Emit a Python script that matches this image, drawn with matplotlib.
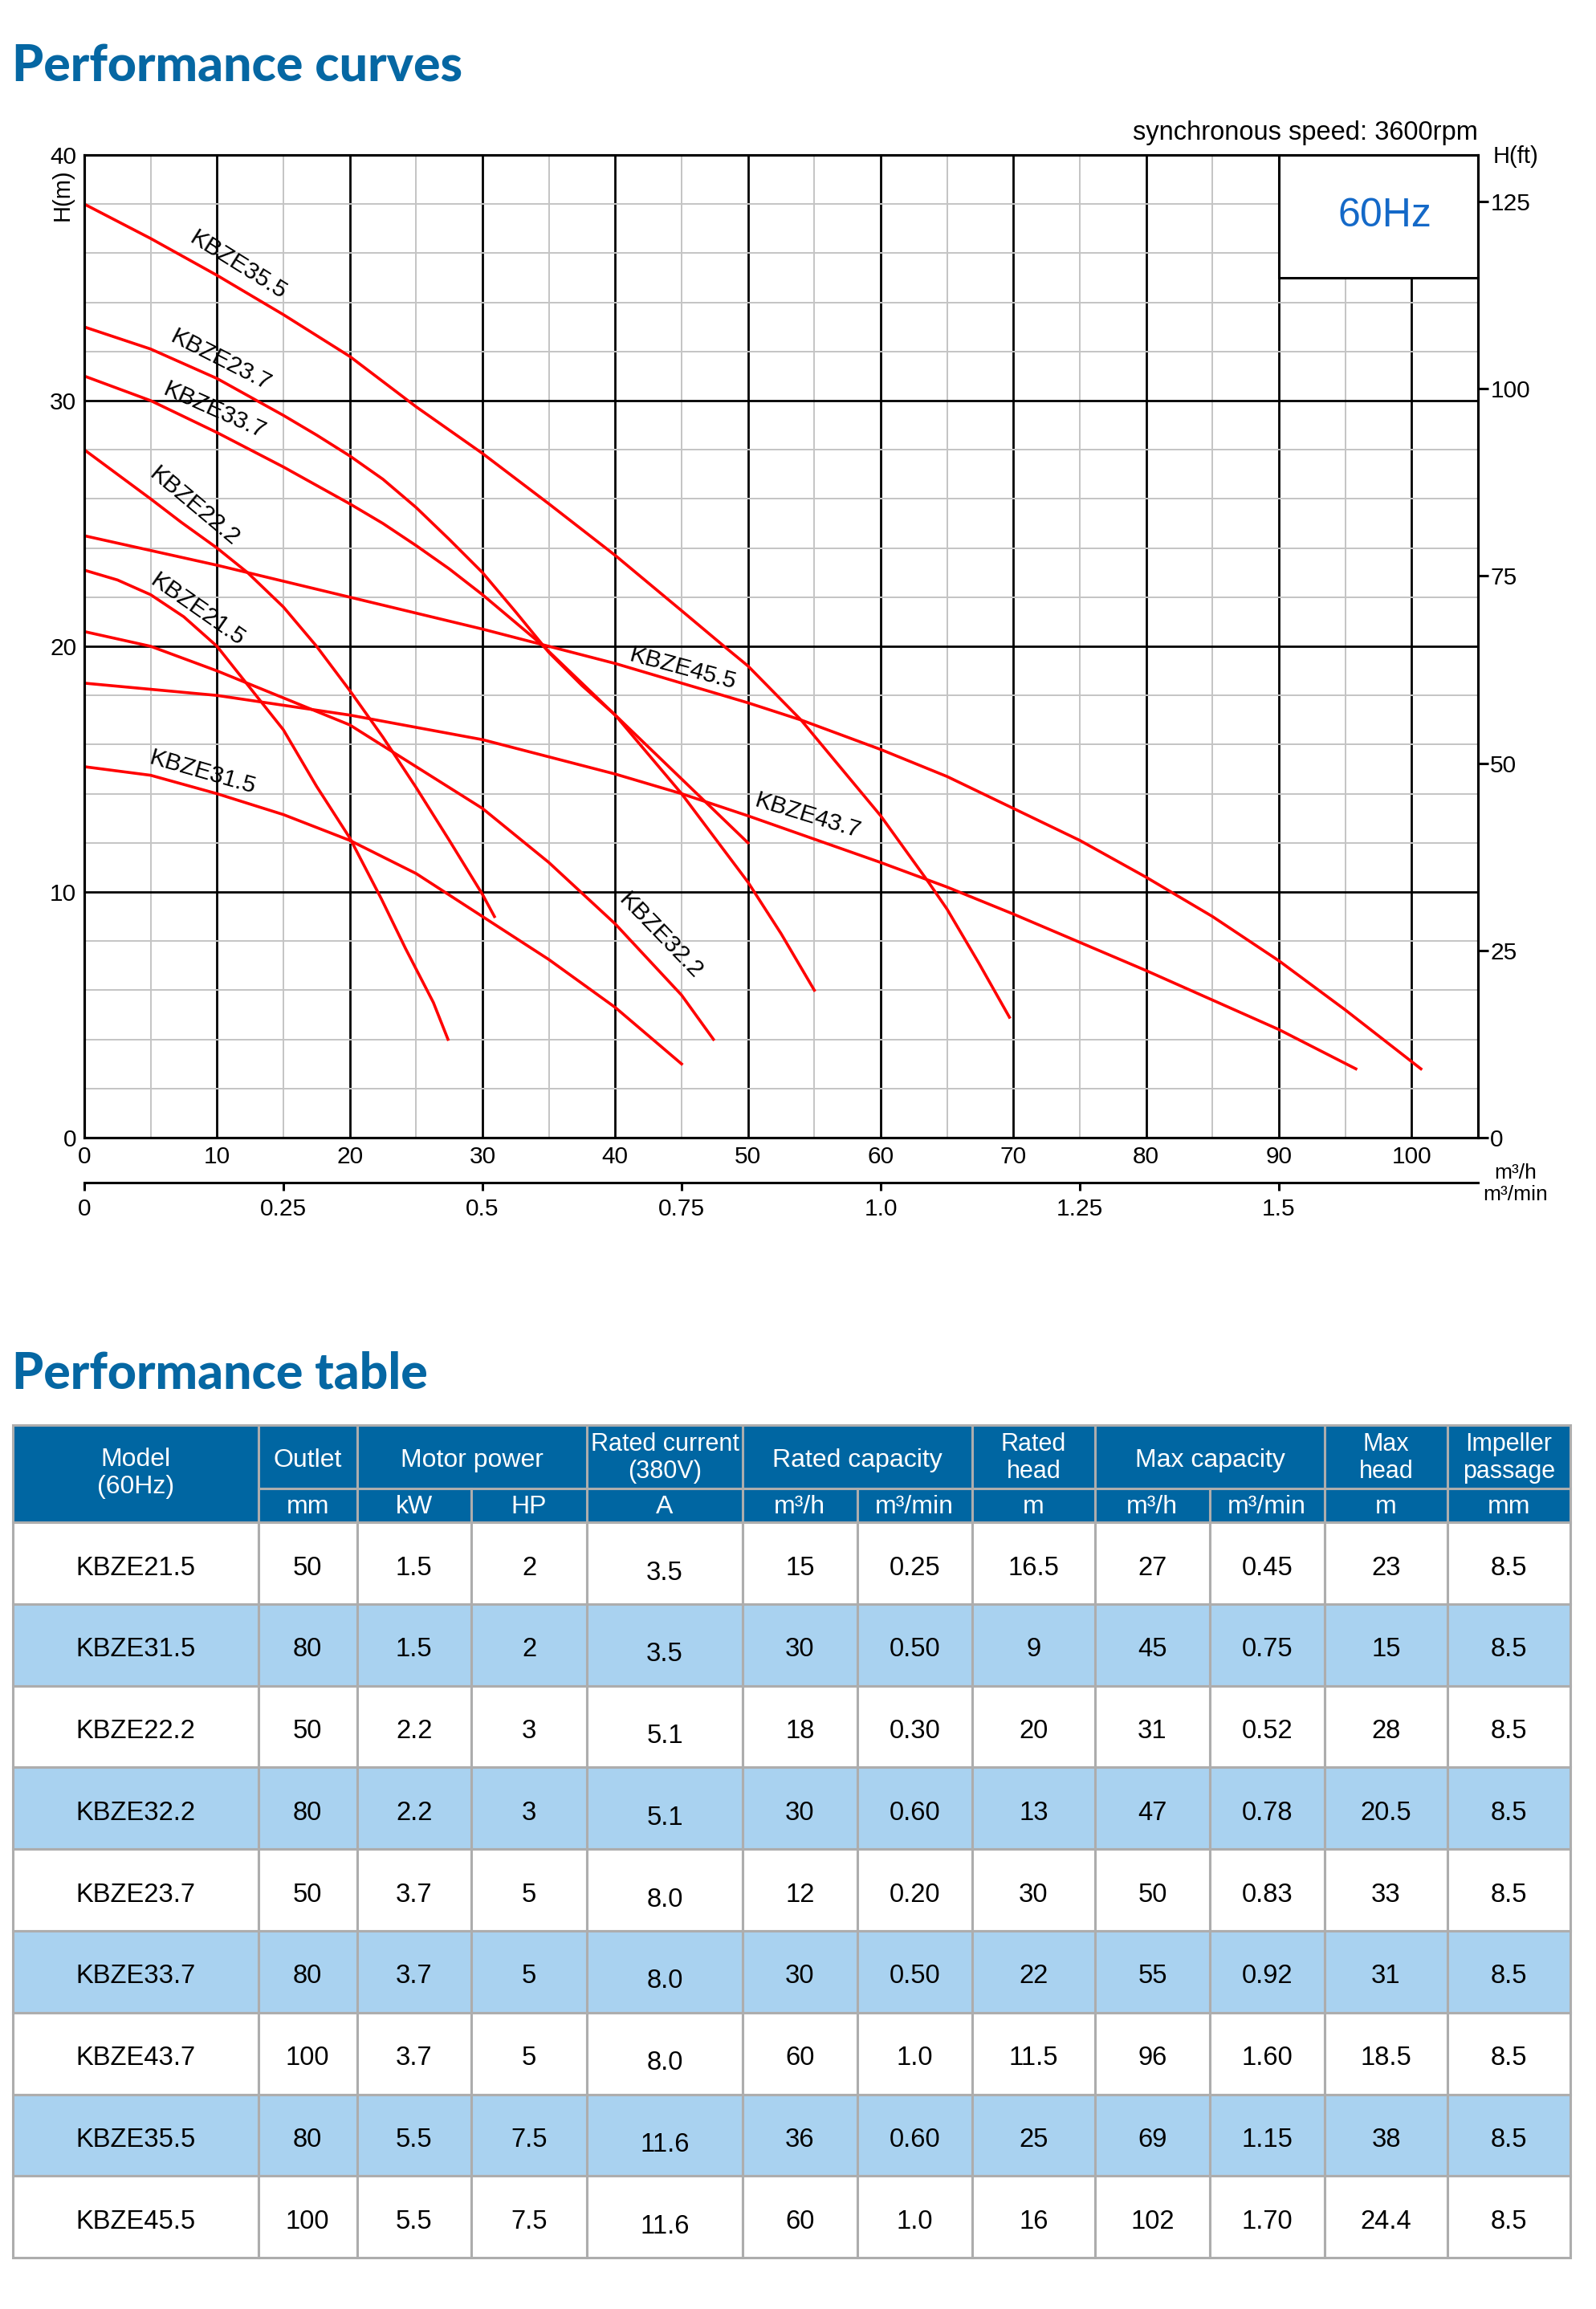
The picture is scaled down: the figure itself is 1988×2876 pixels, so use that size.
import matplotlib.pyplot as plt
from matplotlib.patches import Rectangle

plt.rcParams['font.family'] = ['Liberation Sans', 'DejaVu Sans']

# ---- curve data: flow Q (m3/h) and head H (m) ----
q_21_5 = [0, 2.5, 5, 7.5, 10, 12.5, 15, 17.5, 20, 22.4, 24.2, 26.3, 27.4]
h_21_5 = [23.1, 22.7, 22.1, 21.2, 20.0, 18.3, 16.6, 14.3, 12.2, 9.7, 7.7, 5.5, 4.0]

q_31_5 = [0, 5, 10, 15, 20, 25, 30, 35, 40, 45]
h_31_5 = [15.1, 14.75, 14.0, 13.15, 12.1, 10.75, 9.0, 7.25, 5.3, 3.0]

q_22_2 = [0, 5, 7.3, 10, 12.3, 15, 17.5, 20, 22.5, 25, 27.5, 30, 30.9]
h_22_2 = [28.0, 26.0, 25.05, 24.0, 23.0, 21.6, 20.0, 18.2, 16.3, 14.25, 12.1, 9.9, 9.0]

q_32_2 = [0, 5, 10, 15, 20, 25, 30, 35, 40, 45, 47.4]
h_32_2 = [20.6, 20.0, 19.0, 17.9, 16.8, 15.1, 13.4, 11.2, 8.7, 5.8, 4.0]

q_23_7 = [0, 5, 10, 15, 17.5, 20, 22.5, 25, 27.5, 30, 32.5, 35, 37.5, 40, 45, 50]
h_23_7 = [33.0, 32.1, 30.9, 29.4, 28.6, 27.75, 26.8, 25.65, 24.35, 23.0, 21.4,
          19.75, 18.4, 17.2, 14.6, 12.0]

q_33_7 = [0, 5, 10, 15, 20, 22.5, 25, 27.5, 30, 34.4, 40, 45, 50, 52.5, 55]
h_33_7 = [31.0, 30.0, 28.7, 27.3, 25.8, 25.0, 24.1, 23.15, 22.1, 20.1, 17.2,
          14.0, 10.4, 8.3, 6.0]

q_43_7 = [0, 10, 20, 30, 40, 45, 50, 60, 65, 70, 80, 90, 95.8]
h_43_7 = [18.5, 18.0, 17.2, 16.2, 14.8, 14.0, 13.1, 11.2, 10.2, 9.1, 6.8, 4.4, 2.8]

q_35_5 = [0, 5, 10, 15, 20, 25, 30, 35, 40, 45, 48.2, 50, 54, 60, 63.6, 65, 67.4, 69.7]
h_35_5 = [38.0, 36.6, 35.1, 33.5, 31.8, 29.75, 27.85, 25.8, 23.7, 21.45, 20.0, 19.2, 17.0, 13.1, 10.4, 9.3, 7.1, 4.9]

q_45_5 = [0, 10, 20, 30, 35, 40, 50, 54, 60, 65, 70, 75, 80, 85, 90, 95, 100.7]
h_45_5 = [24.5, 23.3, 22.0, 20.7, 20.0, 19.3, 17.7, 17.0, 15.8, 14.7, 13.4, 12.1, 10.6, 9.0, 7.2, 5.2, 2.8]

curves = [
    ("KBZE21.5", q_21_5, h_21_5),
    ("KBZE31.5", q_31_5, h_31_5),
    ("KBZE22.2", q_22_2, h_22_2),
    ("KBZE32.2", q_32_2, h_32_2),
    ("KBZE23.7", q_23_7, h_23_7),
    ("KBZE33.7", q_33_7, h_33_7),
    ("KBZE43.7", q_43_7, h_43_7),
    ("KBZE35.5", q_35_5, h_35_5),
    ("KBZE45.5", q_45_5, h_45_5),
]

# where each curve name sits (Q, H, rotation)
label_pos = {
    "KBZE35.5": (11.6, 35.5, -32),
    "KBZE23.7": (10.3, 31.65, -27),
    "KBZE33.7": (9.8, 29.6, -24),
    "KBZE22.2": (8.3, 25.7, -40),
    "KBZE21.5": (8.5, 21.5, -35),
    "KBZE31.5": (8.9, 14.86, -16),
    "KBZE45.5": (45.1, 19.08, -15),
    "KBZE43.7": (54.5, 13.08, -17),
    "KBZE32.2": (43.4, 8.22, -46),
}

ft_ticks = [0, 25, 50, 75, 100, 125]
min_ticks = [0, 0.25, 0.5, 0.75, 1.0, 1.25, 1.5]
min_labels = ["0", "0.25", "0.5", "0.75", "1.0", "1.25", "1.5"]

# ---- table data ----
models = ["KBZE21.5", "KBZE31.5", "KBZE22.2", "KBZE32.2", "KBZE23.7",
          "KBZE33.7", "KBZE43.7", "KBZE35.5", "KBZE45.5"]
outlet_mm = ["50", "80", "50", "80", "50", "80", "100", "80", "100"]
power_kw = ["1.5", "1.5", "2.2", "2.2", "3.7", "3.7", "3.7", "5.5", "5.5"]
power_hp = ["2", "2", "3", "3", "5", "5", "5", "7.5", "7.5"]
current_a = ["3.5", "3.5", "5.1", "5.1", "8.0", "8.0", "8.0", "11.6", "11.6"]
rated_q_h = ["15", "30", "18", "30", "12", "30", "60", "36", "60"]
rated_q_min = ["0.25", "0.50", "0.30", "0.60", "0.20", "0.50", "1.0", "0.60", "1.0"]
rated_head = ["16.5", "9", "20", "13", "30", "22", "11.5", "25", "16"]
max_q_h = ["27", "45", "31", "47", "50", "55", "96", "69", "102"]
max_q_min = ["0.45", "0.75", "0.52", "0.78", "0.83", "0.92", "1.60", "1.15", "1.70"]
max_head = ["23", "15", "28", "20.5", "33", "31", "18.5", "38", "24.4"]
passage_mm = ["8.5"] * 9

table_cols = [models, outlet_mm, power_kw, power_hp, current_a, rated_q_h,
              rated_q_min, rated_head, max_q_h, max_q_min, max_head, passage_mm]

# header: (first col, last col, lines)
group_header = [
    (1, 1, ["Outlet"]), (2, 3, ["Motor power"]), (4, 4, ["Rated current", "(380V)"]),
    (5, 6, ["Rated capacity"]), (7, 7, ["Rated", "head"]), (8, 9, ["Max capacity"]),
    (10, 10, ["Max", "head"]), (11, 11, ["Impeller", "passage"]),
]
sub_header = ["mm", "kW", "HP", "A", "m³/h", "m³/min", "m", "m³/h", "m³/min", "m", "mm"]

# ---- figure ----
W, H = 1988, 2876
fig = plt.figure(figsize=(W / 100, H / 100), dpi=100)

ov = fig.add_axes([0, 0, 1, 1])
ov.set_xlim(0, W)
ov.set_ylim(H, 0)
ov.axis('off')

L, R, T, B = 105, 1841, 193, 1417
ax = fig.add_axes([L / W, 1 - B / H, (R - L) / W, (B - T) / H])
ax.set_xlim(0, 105)
ax.set_ylim(0, 40)
ax.set_xticks(range(0, 101, 10))
ax.set_xticks(range(5, 100, 10), minor=True)
ax.set_yticks(range(0, 41, 10))
ax.set_yticks([y for y in range(0, 41, 2) if y % 10], minor=True)
ax.grid(which='major', color='black', lw=2.0)
ax.grid(which='minor', color='#c4c4c4', lw=1.4)
ax.set_axisbelow(True)
ax.tick_params(which='both', length=0, labelsize=21.5)
ax.tick_params(axis='x', pad=7)
ax.tick_params(axis='y', pad=7)
for s in ax.spines.values():
    s.set_linewidth(2.2)

ax.add_patch(Rectangle((90, 35), 15, 5, facecolor='white', edgecolor='black',
                       lw=2.2, zorder=2.5))
ax.text(98.0, 37.5, "60Hz", color='#1469c8', fontsize=36, ha='center',
        va='center', zorder=3)

for name, q, h in curves:
    ax.plot(q, h, color='#ff0000', lw=2.6, zorder=4)
    lq, lh, rot = label_pos[name]
    ax.text(lq, lh, name, rotation=rot, rotation_mode='anchor', ha='center',
            va='center', fontsize=21.5, zorder=5)

ax2 = ax.twinx()
ax2.set_ylim(0, 40 / 0.3048)
ax2.set_yticks(ft_ticks)
ax2.tick_params(axis='y', direction='out', length=9.5, width=2.2,
                labelsize=21.5, pad=1.5)
for s in ax2.spines.values():
    s.set_linewidth(2.2)

sec = ax.secondary_xaxis(-(1473 - B) / (B - T),
                         functions=(lambda x: x / 60, lambda x: x * 60))
sec.set_xticks(min_ticks)
sec.set_xticklabels(min_labels)
sec.tick_params(length=7, width=2.2, labelsize=21.5, pad=7)
sec.spines['bottom'].set_linewidth(2.2)

# ---- free texts ----
title_kw = dict(fontsize=45, color='#0567a3', fontweight='black',
                family=['Lato', 'DejaVu Sans'], va='baseline', ha='left')
ov.text(15, 102, "Performance curves", **title_kw)
ov.text(15, 1730, "Performance table", **title_kw)
ov.text(1841, 174, "synchronous speed: 3600rpm", ha='right', va='baseline',
        fontsize=23.5)
ov.text(1888, 195, "H(ft)", ha='center', va='center', fontsize=21)
ov.text(78, 243, "H(m)", rotation=90, ha='center', va='center', fontsize=21)
ov.text(1888, 1461, "m³/h", ha='center', va='center', fontsize=19)
ov.text(1888, 1488, "m³/min", ha='center', va='center', fontsize=19)

# ---- table ----
col_x = [16, 322, 444.5, 587, 731, 925, 1067.7, 1210.6, 1364.3, 1506.5, 1650, 1803, 1955.5]
top, mid, sub_bot = 1775, 1854, 1896
row_h = 101.8
head_blue = '#0066a2'
light_blue = '#a9d2f0'
edge = '#adadad'
lw = 2.2


def cell(x0, x1, y0, y1, fc):
    ov.add_patch(Rectangle((x0, y0), x1 - x0, y1 - y0, facecolor=fc,
                           edgecolor=edge, lw=lw, zorder=2))


# model header spans both header rows
cell(col_x[0], col_x[1], top, sub_bot, head_blue)
ov.text((col_x[0] + col_x[1]) / 2, 1826, "Model", color='white', fontsize=23,
        ha='center', va='baseline', zorder=3)
ov.text((col_x[0] + col_x[1]) / 2, 1860, "(60Hz)", color='white', fontsize=23,
        ha='center', va='baseline', zorder=3)

for c0, c1, lines in group_header:
    x0, x1 = col_x[c0], col_x[c1 + 1]
    cell(x0, x1, top, mid, head_blue)
    xc = (x0 + x1) / 2
    if len(lines) == 1:
        ov.text(xc, 1827, lines[0], color='white', fontsize=23,
                ha='center', va='baseline', zorder=3)
    else:
        ov.text(xc, 1807, lines[0], color='white', fontsize=22,
                ha='center', va='baseline', zorder=3)
        ov.text(xc, 1841, lines[1], color='white', fontsize=22,
                ha='center', va='baseline', zorder=3)

for j, lab in enumerate(sub_header):
    x0, x1 = col_x[j + 1], col_x[j + 2]
    cell(x0, x1, mid, sub_bot, head_blue)
    ov.text((x0 + x1) / 2, 1885, lab, color='white', fontsize=23,
            ha='center', va='baseline', zorder=3)

for i in range(len(models)):
    y0 = sub_bot + i * row_h
    y1 = y0 + row_h
    fc = light_blue if i % 2 else 'white'
    yc = (y0 + y1) / 2
    for j, col in enumerate(table_cols):
        x0, x1 = col_x[j], col_x[j + 1]
        cell(x0, x1, y0, y1, fc)
        off = 20.6 if j == 4 else 14.6
        ov.text((x0 + x1) / 2, yc + off, col[i], fontsize=23.6, ha='center',
                va='baseline', zorder=3)

fig.savefig("out.png", dpi=100)
